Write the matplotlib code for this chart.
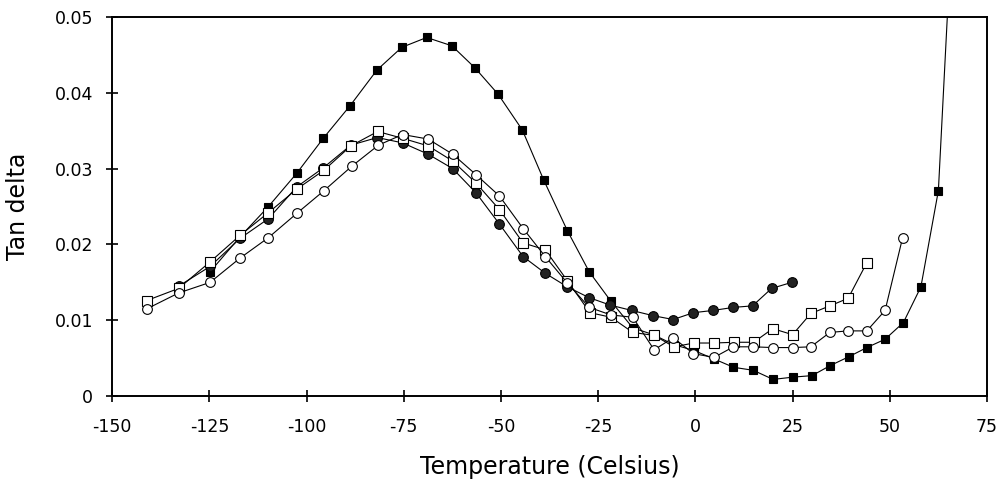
import matplotlib
matplotlib.use("Agg")
import matplotlib.pyplot as plt

plt.rcParams["axes.unicode_minus"] = False
plt.rcParams["font.family"] = "DejaVu Sans"

# tan delta vs temperature, four samples
sq_fill_t = [-124.8, -117.1, -109.8, -102.5, -95.7, -88.8, -81.9, -75.5, -69.1, -62.6,
             -56.7, -50.7, -44.5, -39.0, -32.9, -27.3, -21.7, -16.1, -10.8, -5.6,
             -0.3, 4.8, 9.8, 14.9, 20.0, 25.1, 30.0, 34.6, 39.5, 44.1,
             48.8, 53.5, 58.0, 62.5, 67.0]
sq_fill_tan = [0.0164, 0.0210, 0.0250, 0.0294, 0.0340, 0.0383, 0.0430, 0.0460, 0.0473, 0.0462,
               0.0433, 0.0398, 0.0351, 0.0285, 0.0218, 0.0164, 0.0125, 0.0090, 0.0081, 0.0068,
               0.0060, 0.0049, 0.0038, 0.0034, 0.0022, 0.0025, 0.0027, 0.0040, 0.0052, 0.0064,
               0.0075, 0.0097, 0.0144, 0.0271, 0.0720]

circ_fill_t = [-132.9, -124.8, -117.1, -109.8, -102.5, -95.7, -88.6, -81.8, -75.3, -68.7,
               -62.4, -56.4, -50.4, -44.3, -38.6, -32.9, -27.4, -21.9, -16.4, -10.8,
               -5.7, -0.5, 4.6, 9.8, 14.7, 19.6, 24.8]
circ_fill_tan = [0.0145, 0.0171, 0.0208, 0.0234, 0.0276, 0.0301, 0.0331, 0.0341, 0.0334, 0.0319,
                 0.0300, 0.0268, 0.0227, 0.0184, 0.0162, 0.0144, 0.0130, 0.0120, 0.0113, 0.0106,
                 0.0101, 0.0110, 0.0113, 0.0117, 0.0119, 0.0142, 0.0150]

sq_open_t = [-141.1, -132.9, -124.8, -117.1, -109.8, -102.5, -95.5, -88.6, -81.7, -75.3,
             -68.7, -62.4, -56.4, -50.4, -44.3, -38.6, -32.9, -27.1, -21.7, -16.1,
             -10.6, -5.5, -0.4, 4.8, 10.0, 15.0, 19.9, 25.0, 29.7, 34.6,
             39.3, 44.1]
sq_open_tan = [0.0126, 0.0142, 0.0177, 0.0212, 0.0242, 0.0273, 0.0298, 0.0330, 0.0349, 0.0340,
               0.0330, 0.0310, 0.0281, 0.0246, 0.0202, 0.0193, 0.0152, 0.0110, 0.0104, 0.0084,
               0.0080, 0.0065, 0.0070, 0.0070, 0.0071, 0.0071, 0.0089, 0.0081, 0.0109, 0.0119,
               0.0129, 0.0176]

circ_open_t = [-141.1, -132.9, -124.8, -117.1, -109.8, -102.5, -95.5, -88.4, -81.5, -75.3,
               -68.7, -62.4, -56.4, -50.4, -44.3, -38.6, -32.9, -27.3, -21.7, -16.1,
               -10.6, -5.7, -0.5, 4.8, 9.8, 14.9, 19.9, 25.0, 29.7, 34.6,
               39.3, 44.1, 48.8, 53.3]
circ_open_tan = [0.0115, 0.0136, 0.0150, 0.0182, 0.0209, 0.0241, 0.0271, 0.0303, 0.0331, 0.0345,
                 0.0339, 0.0319, 0.0292, 0.0264, 0.0221, 0.0184, 0.0149, 0.0117, 0.0107, 0.0104,
                 0.0061, 0.0077, 0.0056, 0.0051, 0.0065, 0.0065, 0.0064, 0.0064, 0.0065, 0.0084,
                 0.0086, 0.0086, 0.0113, 0.0209]

x_ticks = [-150, -125, -100, -75, -50, -25, 0, 25, 50, 75]
y_ticks = [0, 0.01, 0.02, 0.03, 0.04, 0.05]
y_tick_labels = ["0", "0.01", "0.02", "0.03", "0.04", "0.05"]

fig = plt.figure(figsize=(10.01, 4.86), dpi=100)
ax = fig.add_axes([0.112, 0.185, 0.874, 0.780])

line_kw = dict(color="black", lw=0.8, markeredgecolor="black", markeredgewidth=0.8)
ax.plot(sq_fill_t, sq_fill_tan, marker="s", ms=6, markerfacecolor="black", **line_kw)
ax.plot(circ_fill_t, circ_fill_tan, marker="o", ms=7, markerfacecolor="#222", **line_kw)
ax.plot(sq_open_t, sq_open_tan, marker="s", ms=6.5, markerfacecolor="white", **line_kw)
ax.plot(circ_open_t, circ_open_tan, marker="o", ms=7, markerfacecolor="white", **line_kw)

ax.set_xlim(-150, 75)
ax.set_ylim(0, 0.05)
ax.set_xticks(x_ticks)
ax.set_xticklabels([str(t) for t in x_ticks])
ax.set_yticks(y_ticks)
ax.set_yticklabels(y_tick_labels)

for spine in ax.spines.values():
    spine.set_linewidth(1.4)
ax.tick_params(direction="inout", length=9, width=1.2, labelsize=12.5, pad=9)
ax.tick_params(axis="x", pad=11)

ax.set_xlabel("Temperature (Celsius)", fontsize=17, labelpad=14)
ax.set_ylabel("Tan delta", fontsize=17)
ax.yaxis.set_label_coords(-0.094, 0.5)

fig.savefig("out.png", dpi=100)
